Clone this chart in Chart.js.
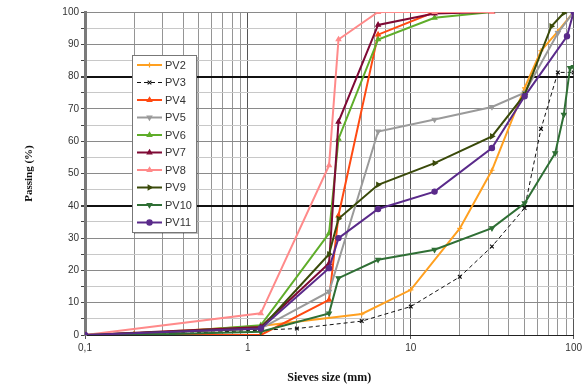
<!DOCTYPE html>
<html>
<head>
<meta charset="utf-8">
<title>Grading curves</title>
<script src="https://cdn.jsdelivr.net/npm/chart.js@4.4.1/dist/chart.umd.min.js"></script>
<style>
  body { margin: 0; background: #fff; }
  #wrap { width: 585px; height: 387px; }
</style>
</head>
<body>
<div id="wrap"><canvas id="grading" width="585" height="387"></canvas></div>
<script>
// ---- data (sieve size in mm, passing in %) ----
const seriesNames = ['PV2', 'PV3', 'PV4', 'PV5', 'PV6', 'PV7', 'PV8', 'PV9', 'PV10', 'PV11'];

const pv2Size = [0.1, 0.2, 1.2, 5, 10, 20, 31.5, 50, 63, 80, 100];
const pv2Pass = [0, 0.5, 2.8, 6.5, 14, 33, 51, 76.5, 88, 94, 100];

const pv3Size = [0.1, 0.4, 1.2, 2, 5, 10, 20, 31.5, 50, 63, 80, 100];
const pv3Pass = [0, 0.5, 1.5, 2, 4.3, 8.8, 18, 27.4, 39.3, 63.8, 81.3, 81.3];

const pv4Size = [0.1, 0.2, 1.2, 3.15, 3.6, 6.3, 14, 31.5];
const pv4Pass = [0, 0, 0, 10.9, 37, 93, 100, 100];

const pv5Size = [0.1, 1.2, 3.15, 6.3, 14, 31.5, 50, 80, 100];
const pv5Pass = [0, 2, 13.4, 63, 66.7, 70.6, 75, 93.5, 100];

const pv6Size = [0.1, 0.2, 1.2, 3.15, 3.6, 6.3, 14, 31.5];
const pv6Pass = [0, 0, 3, 31.5, 60.7, 91.5, 98.2, 100];

const pv7Size = [0.1, 1.2, 3.15, 3.6, 6.3, 14, 31.5];
const pv7Pass = [0, 2.5, 22.2, 66, 96, 99.5, 100];

const pv8Size = [0.1, 1.2, 3.15, 3.6, 6.3, 14, 31.5];
const pv8Pass = [0, 6.7, 52.5, 91.5, 100, 100, 100];

const pv9Size = [0.1, 1.2, 3.15, 3.6, 6.3, 14, 31.5, 50, 73, 87];
const pv9Pass = [0, 2, 25, 36, 46.5, 53.2, 61.5, 74.4, 95.6, 99.7];

const pv10Size = [0.1, 0.2, 1.2, 3.15, 3.6, 6.3, 14, 31.5, 50, 77, 87, 95, 100];
const pv10Pass = [0, 0, 1, 6.7, 17.6, 23.3, 26.4, 33.1, 40.8, 56.3, 68.2, 82.7, 83];

const pv11Size = [0.1, 1.2, 3.15, 3.6, 6.3, 14, 31.5, 50, 91, 100];
const pv11Pass = [0, 2, 20.7, 30, 39, 44.4, 57.9, 73.9, 92.5, 100];

const xTickLabels = { 0.1: '0,1', 1: '1', 10: '10', 100: '100' };

// ---- styles ----
const colors = ['#ffa020', '#111111', '#ff4a12', '#9a9a9a', '#5fad2a', '#7f0a35', '#ff8a8a', '#3a4a0a', '#2f6f35', '#5a2a8a'];
const markers = [
  { style: 'cross', rot: 0 },
  { style: 'crossRot', rot: 0 },
  { style: 'triangle', rot: 0 },
  { style: 'triangle', rot: 180 },
  { style: 'triangle', rot: 0 },
  { style: 'triangle', rot: 0 },
  { style: 'triangle', rot: 0 },
  { style: 'triangle', rot: 90 },
  { style: 'triangle', rot: 180 },
  { style: 'circle', rot: 0 }
];

const sizes = [pv2Size, pv3Size, pv4Size, pv5Size, pv6Size, pv7Size, pv8Size, pv9Size, pv10Size, pv11Size];
const passes = [pv2Pass, pv3Pass, pv4Pass, pv5Pass, pv6Pass, pv7Pass, pv8Pass, pv9Pass, pv10Pass, pv11Pass];

const datasets = seriesNames.map((name, i) => ({
  label: name,
  data: sizes[i].map((s, k) => ({ x: s, y: passes[i][k] })),
  borderColor: colors[i],
  backgroundColor: colors[i],
  borderWidth: i === 1 ? 1 : 2,
  borderDash: i === 1 ? [4, 3] : [],
  pointStyle: markers[i].style,
  rotation: markers[i].rot,
  pointRadius: 2.6,
  pointBorderWidth: 1.2,
  tension: 0,
  order: seriesNames.length - i
}));

// x ticks: 1..9 per decade, like log paper
const logTicks = [];
[0.1, 1, 10].forEach(d => { for (let k = 1; k <= 9; k++) logTicks.push(+(d * k).toFixed(3)); });
logTicks.push(100);

// ---- legend drawn inside the plot ----
const boxLegend = {
  id: 'boxLegend',
  afterDraw(chart) {
    const ctx = chart.ctx;
    const left = 132, top = 55, w = 64, h = 177;
    ctx.save();
    ctx.fillStyle = 'rgba(0,0,0,0.25)';
    ctx.fillRect(left + 2, top + 2, w, h);
    ctx.fillStyle = '#fff';
    ctx.fillRect(left, top, w, h);
    ctx.strokeStyle = '#777';
    ctx.lineWidth = 1;
    ctx.strokeRect(left + 0.5, top + 0.5, w, h);
    ctx.font = '11px "Liberation Sans", Arial, sans-serif';
    ctx.textBaseline = 'middle';
    chart.data.datasets.forEach((ds, i) => {
      const y = top + 10 + i * 17.5;
      ctx.strokeStyle = ds.borderColor;
      ctx.lineWidth = ds.borderWidth;
      ctx.setLineDash(ds.borderDash);
      ctx.beginPath();
      ctx.moveTo(137, y);
      ctx.lineTo(162, y);
      ctx.stroke();
      ctx.setLineDash([]);
      ctx.fillStyle = ds.borderColor;
      ctx.lineWidth = 1.2;
      Chart.helpers.drawPoint(ctx, { pointStyle: ds.pointStyle, radius: 2.6, rotation: ds.rotation, borderWidth: 1.2 }, 149.5, y);
      ctx.fillStyle = '#333';
      ctx.fillText(ds.label, 165, y + 0.5);
    });
    ctx.restore();
  }
};

new Chart(document.getElementById('grading'), {
  type: 'line',
  data: { datasets: datasets },
  options: {
    responsive: false,
    animation: false,
    layout: { padding: { left: 0, right: 10, top: 12, bottom: 0 } },
    plugins: { legend: { display: false }, tooltip: { enabled: false } },
    scales: {
      x: {
        type: 'logarithmic',
        min: 0.1,
        max: 100,
        afterBuildTicks: scale => { scale.ticks = logTicks.map(v => ({ value: v })); },
        afterFit: scale => { scale.height = 52; },
        border: { color: '#222', width: 1 },
        grid: {
          color: ctx => [0.1, 1, 10, 100].includes(ctx.tick && ctx.tick.value) ? '#555' : '#959595',
          lineWidth: 1,
          drawTicks: true,
          tickLength: 4,
          tickColor: ctx => [0.1, 1, 10, 100].includes(ctx.tick && ctx.tick.value) ? '#555' : 'rgba(0,0,0,0)'
        },
        ticks: {
          autoSkip: false,
          maxRotation: 0,
          padding: 3,
          color: '#333',
          font: { family: '"Liberation Sans", Arial, sans-serif', size: 10 },
          callback: v => xTickLabels[v] || ''
        },
        title: {
          display: true,
          text: 'Sieves size (mm)',
          color: '#111',
          padding: { top: 4, bottom: 2 },
          font: { family: '"Liberation Serif", "Times New Roman", serif', size: 12, weight: 'bold' }
        }
      },
      y: {
        min: 0,
        max: 100,
        afterFit: scale => { scale.width = 85; },
        border: { color: '#7a7a7a', width: 3 },
        grid: {
          color: ctx => {
            const v = ctx.tick && ctx.tick.value;
            if (v === 40 || v === 80) return '#111';
            return v % 10 === 0 ? '#8a8a8a' : '#c8c8c8';
          },
          lineWidth: ctx => {
            const v = ctx.tick && ctx.tick.value;
            return (v === 40 || v === 80) ? 2 : 1;
          },
          tickLength: 4,
          tickColor: '#444'
        },
        ticks: {
          stepSize: 5,
          autoSkip: false,
          padding: 2,
          color: '#333',
          font: { family: '"Liberation Sans", Arial, sans-serif', size: 10 },
          callback: v => (v % 10 === 0 ? String(v) : '')
        },
        title: {
          display: true,
          text: 'Passing (%)',
          color: '#111',
          padding: { top: 23, bottom: 0 },
          font: { family: '"Liberation Serif", "Times New Roman", serif', size: 11, weight: 'bold' }
        }
      }
    }
  },
  plugins: [boxLegend]
});
</script>
</body>
</html>
